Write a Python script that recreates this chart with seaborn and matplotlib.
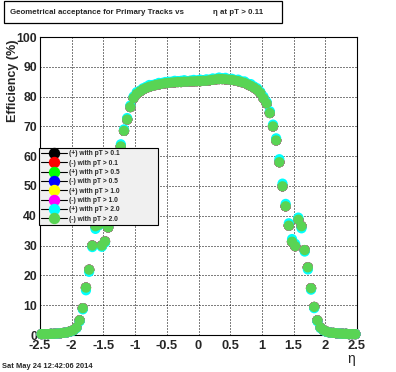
import matplotlib
matplotlib.use("Agg")
import matplotlib.pyplot as plt
import numpy as np
import pandas as pd
import seaborn as sns
from matplotlib.lines import Line2D
from matplotlib.patches import Rectangle
from matplotlib.ticker import MultipleLocator, FormatStrFormatter

# eta bins: 100 bins of width 0.05 between -2.5 and 2.5
ETA_LO, ETA_HI, N_BINS = -2.5, 2.5, 100

# efficiency (%) for (-) with pT > 2.0 (top-most, visible series)
eff_neg_pt20 = [
    0.3, 0.3, 0.3, 0.4, 0.4, 0.5, 0.6, 0.7, 0.9, 1.2,
    1.6, 2.5, 4.9, 9.0, 15.9, 21.9, 30.0, 36.5, 37.0, 30.0,
    31.4, 36.1, 43.0, 50.0, 57.5, 63.3, 68.5, 72.3, 76.5, 79.5,
    80.9, 81.7, 82.4, 82.9, 83.3, 83.6, 83.9, 84.1, 84.3, 84.5,
    84.6, 84.7, 84.8, 84.9, 84.9, 85.0, 85.0, 85.1, 85.1, 85.2,
    85.2, 85.3, 85.3, 85.5, 85.6, 85.8, 85.9, 85.9, 85.8, 85.7,
    85.6, 85.4, 85.2, 84.9, 84.6, 84.1, 83.6, 83.0, 82.3, 81.2,
    79.4, 77.7, 74.5, 70.0, 65.3, 58.0, 49.9, 43.2, 36.7, 31.3,
    29.8, 38.7, 36.5, 28.5, 22.7, 15.7, 9.4, 4.9, 2.5, 1.6,
    1.1, 0.8, 0.7, 0.6, 0.5, 0.4, 0.4, 0.3, 0.3, 0.3,
]

# efficiency (%) for (+) with pT > 2.0 (cyan, peeks out under the green)
eff_pos_pt20 = [
    0.3, 0.3, 0.3, 0.4, 0.4, 0.5, 0.6, 0.7, 0.9, 1.1,
    1.5, 2.3, 4.6, 8.6, 15.0, 21.2, 29.5, 35.6, 36.8, 29.6,
    31.0, 36.5, 43.6, 50.6, 58.0, 64.0, 69.0, 72.8, 77.0, 80.0,
    81.5, 82.0, 82.8, 83.3, 83.9, 83.9, 84.2, 84.6, 84.6, 84.9,
    85.0, 85.0, 85.3, 85.2, 85.3, 85.5, 85.2, 85.4, 85.6, 85.4,
    85.7, 85.5, 85.8, 85.7, 86.1, 86.0, 86.4, 86.1, 86.3, 85.9,
    86.0, 85.6, 85.7, 85.1, 85.1, 84.4, 84.2, 83.4, 82.8, 81.6,
    80.0, 78.2, 75.1, 70.6, 66.0, 59.0, 50.8, 44.0, 37.5, 32.2,
    30.6, 39.4, 35.8, 28.0, 22.0, 15.2, 9.0, 4.6, 2.3, 1.5,
    1.0, 0.8, 0.7, 0.6, 0.5, 0.4, 0.4, 0.3, 0.3, 0.3,
]

# the lower-pT series sit underneath and read the same as the visible one
eff_low_pt = eff_neg_pt20

series_labels = [
    "(+) with pT > 0.1", "(-) with pT > 0.1",
    "(+) with pT > 0.5", "(-) with pT > 0.5",
    "(+) with pT > 1.0", "(-) with pT > 1.0",
    "(+) with pT > 2.0", "(-) with pT > 2.0",
]
series_colors = [
    "#000000", "#ff0000", "#00ff00", "#0000ff",
    "#ffff00", "#ff00ff", "#00ffff", "#59d454",
]
series_values = [eff_low_pt] * 6 + [eff_pos_pt20, eff_neg_pt20]

edges = np.linspace(ETA_LO, ETA_HI, N_BINS + 1)
eta = 0.5 * (edges[:-1] + edges[1:])

df = pd.concat(
    [pd.DataFrame({"eta": eta, "eff": vals, "series": lab})
     for lab, vals in zip(series_labels, series_values)],
    ignore_index=True,
)

sns.set_theme(style="white")
plt.rcParams["font.family"] = ["Liberation Sans", "DejaVu Sans"]

W, H = 396, 372
fig = plt.figure(figsize=(W / 100, H / 100), dpi=100)
fig.patch.set_facecolor("white")

# axes frame in pixel coords: x 40..357, y 37..335
ax = fig.add_axes([40 / W, 1 - 335 / H, 317 / W, 298 / H])
ax.set_facecolor("white")

sns.scatterplot(
    data=df, x="eta", y="eff", hue="series",
    hue_order=series_labels, palette=series_colors,
    s=54, linewidth=0, legend=False, ax=ax,
)
for coll in ax.collections:
    coll.set_clip_on(False)
    coll.set_zorder(3)

ax.set_xlim(ETA_LO, ETA_HI)
ax.set_ylim(0, 100)
ax.set_xlabel("")
ax.set_ylabel("")

ax.xaxis.set_major_locator(MultipleLocator(0.5))
ax.xaxis.set_minor_locator(MultipleLocator(0.1))
ax.yaxis.set_major_locator(MultipleLocator(10))
ax.yaxis.set_minor_locator(MultipleLocator(2))
ax.xaxis.set_major_formatter(FormatStrFormatter("%g"))
ax.yaxis.set_major_formatter(FormatStrFormatter("%g"))

ax.tick_params(axis="both", which="both", direction="in", top=False,
               right=False, color="black", width=0.8)
ax.tick_params(axis="both", which="major", length=5.5)
ax.tick_params(axis="x", which="major", pad=3.8, labelsize=9.3)
ax.tick_params(axis="y", which="major", pad=2.2, labelsize=8.8)
ax.tick_params(axis="both", which="minor", length=3)
for lbl in ax.get_xticklabels() + ax.get_yticklabels():
    lbl.set_fontweight("bold")

ax.grid(True, which="major", color="black", linestyle=(0, (1, 2)),
        linewidth=0.72)
ax.set_axisbelow(True)
for sp in ax.spines.values():
    sp.set_color("black")
    sp.set_linewidth(0.8)
    sp.set_visible(True)

# legend (drawn over the data, as in the original)
handles = [
    Line2D([0], [0], color="black", lw=0.8, marker="o", markersize=7.2,
           markerfacecolor=c, markeredgecolor=c)
    for c in series_colors
]
leg = ax.legend(
    handles, series_labels,
    loc="upper left",
    bbox_to_anchor=(-0.003, 0.377, 0.375, 0.2505),
    mode="expand", borderaxespad=0, frameon=True, fancybox=False,
    prop={"size": 4.8, "weight": "bold"},
    handlelength=3.8, handletextpad=0.3, labelspacing=0.35,
    borderpad=0.35,
)
leg.get_frame().set_facecolor("#f0f0f0")
leg.get_frame().set_edgecolor("black")
leg.get_frame().set_linewidth(0.8)
leg.get_frame().set_alpha(1)
leg.set_zorder(10)

# title box
fig.patches.append(Rectangle((4 / W, 1 - 23 / H), 278 / W, 22 / H,
                             transform=fig.transFigure, facecolor="white",
                             edgecolor="black", linewidth=0.9))
fig.text(10 / W, 1 - 12.5 / H, "Geometrical acceptance for Primary Tracks vs",
         fontsize=5.7, fontweight="bold", va="center", ha="left")
fig.text(213 / W, 1 - 12.5 / H, "\u03b7 at pT > 0.11",
         fontsize=5.7, fontweight="bold", va="center", ha="left")

# axis titles
fig.text(13 / W, 1 - 39 / H, "Efficiency (%)", rotation=90,
         fontsize=9, fontweight="bold", ha="center", va="top")
fig.text(351 / W, 1 - 359 / H, "\u03b7", fontsize=10,
         ha="center", va="center")

# time stamp
fig.text(2 / W, 1 - 366 / H, "Sat May 24 12:42:06 2014",
         fontsize=5.4, fontweight="bold", ha="left", va="center")

fig.savefig("out.png", dpi=100)
